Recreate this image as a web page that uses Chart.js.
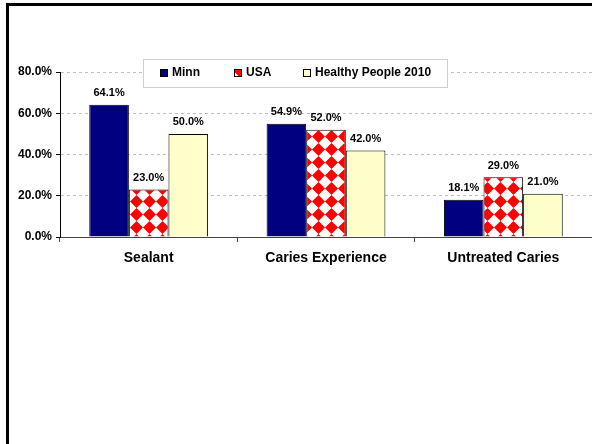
<!DOCTYPE html>
<html>
<head>
<meta charset="utf-8">
<script src="https://cdn.jsdelivr.net/npm/chart.js@4/dist/chart.umd.min.js"></script>
<style>
  html, body { margin: 0; padding: 0; background: #fff; }
  #wrap { position: relative; width: 592px; height: 444px; overflow: hidden; }
  #frame {
    position: absolute; left: 6px; top: 3px; width: 700px; height: 600px;
    border-left: 3px solid #000; border-top: 3px solid #000;
  }
  canvas { position: absolute; left: 0; top: 0; }
</style>
</head>
<body>
<div id="wrap">
  <div id="frame"></div>
  <canvas id="chart" width="592" height="444"></canvas>
</div>
<script>
const categories = ["Sealant", "Caries Experience", "Untreated Caries"];
const seriesNames = ["Minn", "USA", "Healthy People 2010"];
const minnValues = [64.1, 54.9, 18.1];
const usaValues = [23.0, 52.0, 29.0];
const hpValues = [50.0, 42.0, 21.0];
const yTicks = [0, 20, 40, 60, 80];

const FONT = "'Liberation Sans', Arial, sans-serif";

// red diamond checker used for the USA bars
const makeDiamonds = () => {
  const size = 13;
  const tile = document.createElement("canvas");
  tile.width = size;
  tile.height = size;
  const c = tile.getContext("2d");
  c.fillStyle = "#fff";
  c.fillRect(0, 0, size, size);
  c.fillStyle = "#ff0000";
  c.beginPath();
  c.moveTo(size / 2, 0);
  c.lineTo(size, size / 2);
  c.lineTo(size / 2, size);
  c.lineTo(0, size / 2);
  c.closePath();
  c.fill();
  return document.getElementById("chart").getContext("2d").createPattern(tile, "repeat");
};

const diamonds = makeDiamonds();

const valueLabels = {
  id: "valueLabels",
  afterDatasetsDraw(chart) {
    const ctx = chart.ctx;
    ctx.save();
    ctx.font = `bold 11px ${FONT}`;
    ctx.fillStyle = "#000";
    ctx.textAlign = "center";
    ctx.textBaseline = "bottom";
    chart.data.datasets.forEach((ds, i) => {
      chart.getDatasetMeta(i).data.forEach((bar, j) => {
        ctx.fillText(ds.data[j].toFixed(1) + "%", bar.x, bar.y - 6);
      });
    });
    ctx.restore();
  },
};

// boxed legend sitting over the top of the plot
const boxLegend = {
  id: "boxLegend",
  afterDraw(chart) {
    const ctx = chart.ctx;
    const itemX = [160, 234, 303];
    ctx.save();
    ctx.fillStyle = "#fff";
    ctx.fillRect(143.5, 59.5, 304, 28);
    ctx.strokeStyle = "#cfcfcf";
    ctx.lineWidth = 1;
    ctx.strokeRect(143.5, 59.5, 304, 28);
    ctx.font = `bold 12px ${FONT}`;
    ctx.textBaseline = "middle";
    chart.data.datasets.forEach((ds, i) => {
      const x = itemX[i];
      ctx.fillStyle = ds.backgroundColor;
      ctx.fillRect(x, 69, 7, 7);
      ctx.strokeStyle = "#000";
      ctx.strokeRect(x + 0.5, 69.5, 7, 7);
      ctx.fillStyle = "#000";
      ctx.fillText(ds.label, x + 12, 73);
    });
    ctx.restore();
  },
};

new Chart(document.getElementById("chart"), {
  type: "bar",
  data: {
    labels: categories,
    datasets: [
      { label: seriesNames[0], data: minnValues, backgroundColor: "#000080" },
      { label: seriesNames[1], data: usaValues, backgroundColor: diamonds },
      { label: seriesNames[2], data: hpValues, backgroundColor: "#ffffcc" },
    ],
  },
  options: {
    responsive: false,
    animation: false,
    layout: { padding: { left: 0, right: 0, top: 72, bottom: 0 } },
    datasets: {
      bar: {
        borderColor: "#000",
        borderWidth: 1,
        barPercentage: 1.0,
        categoryPercentage: 0.67,
      },
    },
    plugins: {
      legend: { display: false },
      tooltip: { enabled: false },
    },
    scales: {
      x: {
        afterFit: (scale) => { scale.height = 207; },
        grid: {
          drawOnChartArea: false,
          drawTicks: true,
          tickLength: 5,
          color: "#444",
          offset: true,
        },
        border: { color: "#444", width: 1 },
        ticks: {
          color: "#000",
          padding: 8,
          font: { family: FONT, size: 14, weight: "bold" },
        },
      },
      y: {
        min: 0,
        max: 80,
        afterFit: (scale) => { scale.width = 60; },
        afterBuildTicks: (scale) => { scale.ticks = yTicks.map((v) => ({ value: v })); },
        grid: {
          color: "#bdbdbd",
          tickColor: "#000",
          tickLength: 4,
          tickBorderDash: [],
        },
        border: { color: "#000", width: 1, dash: [3, 3] },
        ticks: {
          color: "#000",
          padding: 4,
          font: { family: FONT, size: 12, weight: "bold" },
          callback: (v) => v.toFixed(1) + "%",
        },
      },
    },
  },
  plugins: [valueLabels, boxLegend],
});
</script>
</body>
</html>
